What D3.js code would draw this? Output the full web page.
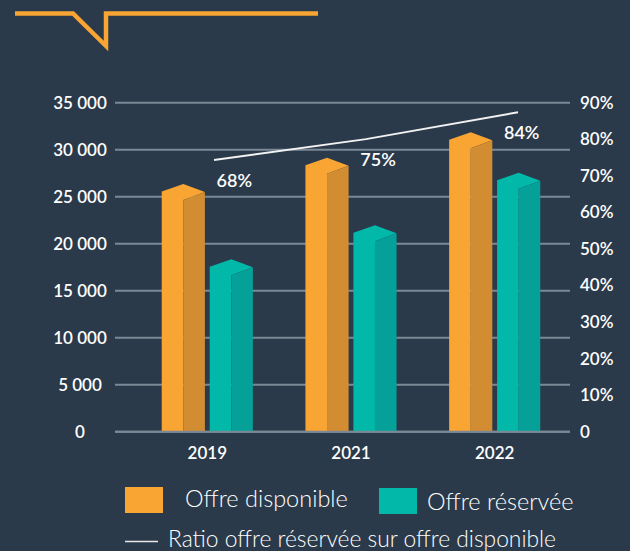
<!DOCTYPE html>
<html>
<head>
<meta charset="utf-8">
<script src="https://cdn.jsdelivr.net/npm/d3@7"></script>
<style>
  html, body { margin: 0; padding: 0; background: #2b3a4a; }
  svg { display: block; font-family: Lato, "Open Sans", sans-serif; }
</style>
</head>
<body>
<div class="visual"></div>
<script>
const width = 630;
const height = 551;

// data
const years = ["2019", "2021", "2022"];
const offreDisponible = [25500, 28300, 31000];
const offreReservee = [17500, 21100, 26700];
const ratio = [68, 75, 84];
const leftTicks = [0, 5000, 10000, 15000, 20000, 25000, 30000, 35000];
const rightTicks = [0, 10, 20, 30, 40, 50, 60, 70, 80, 90];
const seriesNames = ["Offre disponible", "Offre réservée"];

const colors = {
  "Offre disponible": { front: "#f9a533", side: "#d28d33" },
  "Offre réservée": { front: "#02b8a9", side: "#05a199" }
};

const svg = d3
  .select(".visual")
  .append("svg")
  .attr("width", width)
  .attr("height", height);

svg.append("rect").attr("width", width).attr("height", height).attr("fill", "#2b3a4a");

// header decoration
svg
  .append("path")
  .attr("d", "M15,13.5 H73 L106,46 V13.5 H318")
  .attr("fill", "none")
  .attr("stroke", "#f9a533")
  .attr("stroke-width", 4.5);

const y = d3.scaleLinear().domain([0, 35000]).range([431.7, 102.7]);
const yRight = d3.scaleLinear().domain([0, 90]).range([431.7, 102.7]);
// the ratio line sits on its own scale in the original
const yRatio = d3.scaleLinear().domain([68, 84]).range([160, 112.3]);

const x0 = d3.scaleBand().domain(years).range([133, 569]).paddingInner(0.366).paddingOuter(0.2);
const x1 = d3.scaleBand().domain(seriesNames).range([0, x0.bandwidth()]).paddingInner(0.1);
const xLine = d3.scalePoint().domain(years).range([214, 518]);

// gridlines
svg
  .selectAll(".grid")
  .data(leftTicks)
  .enter()
  .append("line")
  .attr("class", "grid")
  .attr("x1", 115)
  .attr("x2", 570)
  .attr("y1", (d) => y(d))
  .attr("y2", (d) => y(d))
  .attr("stroke", "#7b8997")
  .attr("stroke-width", 2);

// left axis labels
svg
  .selectAll(".ltick")
  .data(leftTicks)
  .enter()
  .append("text")
  .attr("class", "ltick")
  .attr("x", 80)
  .attr("y", (d) => y(d) + 6)
  .attr("text-anchor", "middle")
  .attr("fill", "#fff")
  .attr("font-size", 17)
  .attr("font-weight", 600)
  .text((d) => d3.format(",")(d).replace(/,/g, " "));

// right axis labels
svg
  .selectAll(".rtick")
  .data(rightTicks)
  .enter()
  .append("text")
  .attr("class", "rtick")
  .attr("x", 580)
  .attr("y", (d) => yRight(d) + 6)
  .attr("fill", "#fff")
  .attr("font-size", 17)
  .attr("font-weight", 600)
  .text((d) => d + (d === 0 ? "" : "%"));

// bars
const bars = [];
years.forEach((yr, i) => {
  bars.push({ year: yr, name: seriesNames[0], value: offreDisponible[i] });
  bars.push({ year: yr, name: seriesNames[1], value: offreReservee[i] });
});

const dy = 8; // half-height of the bar top
const g = svg
  .selectAll(".bar")
  .data(bars)
  .enter()
  .append("g")
  .attr("class", "bar")
  .attr("transform", (d) => `translate(${x0(d.year) + x1(d.name)},0)`);

const w = x1.bandwidth();
g.append("path")
  .attr("fill", (d) => colors[d.name].front)
  .attr("d", (d) => {
    const yv = y(d.value);
    return `M0,${yv - 0.5} L${w / 2},${yv - dy} L${w},${yv} L${w / 2},${yv + dy} L${w / 2},${y(0)} L0,${y(0)} Z`;
  });
g.append("path")
  .attr("fill", (d) => colors[d.name].side)
  .attr("d", (d) => {
    const yv = y(d.value);
    return `M${w / 2},${yv + dy} L${w},${yv} L${w},${y(0)} L${w / 2},${y(0)} Z`;
  });

// baseline
svg
  .append("line")
  .attr("x1", 115)
  .attr("x2", 570)
  .attr("y1", y(0))
  .attr("y2", y(0))
  .attr("stroke", "#7b8997")
  .attr("stroke-width", 2);

// x labels
svg
  .selectAll(".xlab")
  .data(years)
  .enter()
  .append("text")
  .attr("class", "xlab")
  .attr("x", (d) => x0(d) + x0.bandwidth() / 2)
  .attr("y", 459)
  .attr("text-anchor", "middle")
  .attr("fill", "#fff")
  .attr("font-size", 17)
  .attr("font-weight", 600)
  .text((d) => d);

// ratio line
const line = d3
  .line()
  .x((d, i) => xLine(years[i]))
  .y((d) => yRatio(d));
svg
  .append("path")
  .datum(ratio)
  .attr("d", line)
  .attr("fill", "none")
  .attr("stroke", "#f2f2f2")
  .attr("stroke-width", 2);

svg
  .selectAll(".rlab")
  .data(ratio)
  .enter()
  .append("text")
  .attr("class", "rlab")
  .attr("x", (d, i) => x0(years[i]) + x0.bandwidth() / 2 + 27)
  .attr("y", (d) => yRatio(d) + 27)
  .attr("text-anchor", "middle")
  .attr("fill", "#fff")
  .attr("font-size", 18)
  .attr("font-weight", 600)
  .text((d) => d + "%");

// legend
const legend = svg.append("g").attr("class", "legend");
legend.append("rect").attr("x", 125).attr("y", 487).attr("width", 38).attr("height", 26).attr("fill", colors[seriesNames[0]].front);
legend
  .append("text")
  .attr("x", 185)
  .attr("y", 507)
  .attr("fill", "#fff")
  .attr("font-size", 23.5)
  .attr("font-weight", 300)
  .text(seriesNames[0]);
legend.append("rect").attr("x", 379).attr("y", 488).attr("width", 38).attr("height", 26).attr("fill", colors[seriesNames[1]].front);
legend
  .append("text")
  .attr("x", 427)
  .attr("y", 510)
  .attr("fill", "#fff")
  .attr("font-size", 23.5)
  .attr("font-weight", 300)
  .text(seriesNames[1]);
legend
  .append("line")
  .attr("x1", 125)
  .attr("x2", 158)
  .attr("y1", 541.5)
  .attr("y2", 541.5)
  .attr("stroke", "#e8e8e8")
  .attr("stroke-width", 1.5);
legend
  .append("text")
  .attr("x", 168)
  .attr("y", 547)
  .attr("fill", "#fff")
  .attr("font-size", 22.8)
  .attr("font-weight", 300)
  .text("Ratio offre réservée sur offre disponible");
</script>
</body>
</html>
